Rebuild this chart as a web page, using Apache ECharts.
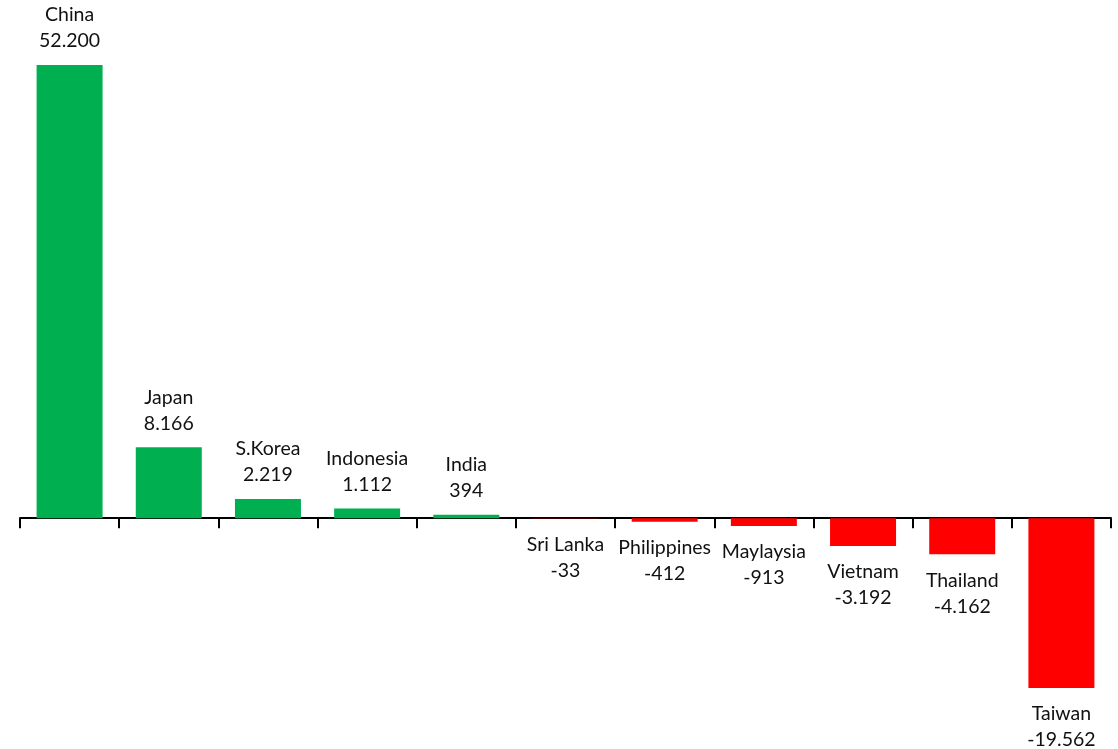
<!DOCTYPE html>
<html>
<head>
<meta charset="utf-8">
<script src="https://cdn.jsdelivr.net/npm/echarts@6/dist/echarts.min.js"></script>
<style>
html,body{margin:0;padding:0;background:#fff;}
#chart{width:1118px;height:749px;}
</style>
</head>
<body>
<div id="chart"></div>
<script>
const categories = ['China','Japan','S.Korea','Indonesia','India','Sri Lanka','Philippines','Maylaysia','Vietnam','Thailand','Taiwan'];
const values = [52200, 8166, 2219, 1112, 394, -33, -412, -913, -3192, -4162, -19562];
const positiveColor = '#00b050';
const negativeColor = '#ff0000';

function fmt(v){
  const s = Math.abs(v).toString().replace(/\B(?=(\d{3})+(?!\d))/g, '.');
  return (v < 0 ? '-' : '') + s;
}

const data = values.map((v, i) => ({
  value: v,
  itemStyle: { color: v >= 0 ? positiveColor : negativeColor },
  label: {
    position: v >= 0 ? 'top' : 'bottom',
    distance: v >= 0 ? 11 : 13
  }
}));

const chart = echarts.init(document.getElementById('chart'));
chart.setOption({
  animation: false,
  grid: { left: 20, right: 7, top: 65, bottom: 61, containLabel: false },
  xAxis: {
    type: 'category',
    data: categories,
    boundaryGap: true,
    axisLine: { onZero: true, lineStyle: { color: '#000', width: 2 } },
    axisTick: { show: true, alignWithLabel: false, length: 10, lineStyle: { color: '#000', width: 2 } },
    axisLabel: { show: false },
    splitLine: { show: false }
  },
  yAxis: {
    type: 'value',
    min: -19562,
    max: 52200,
    show: false,
    splitLine: { show: false }
  },
  series: [{
    type: 'bar',
    data: data,
    barWidth: 66,
    label: {
      show: true,
      fontFamily: 'Lato, "Noto Sans", sans-serif',
      fontSize: 19.5,
      lineHeight: 26,
      color: '#111',
      formatter: p => categories[p.dataIndex] + '\n' + fmt(p.value)
    }
  }]
});
</script>
</body>
</html>
